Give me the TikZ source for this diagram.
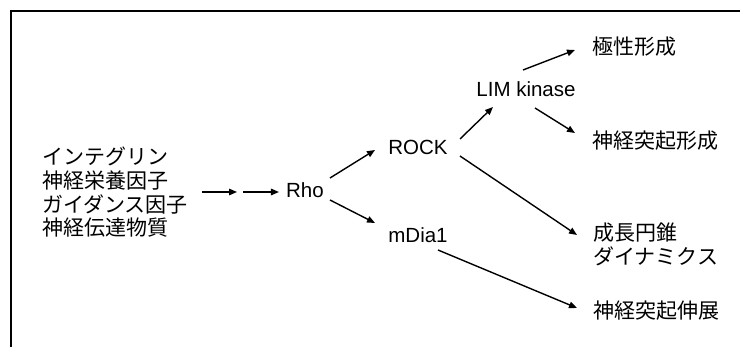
\documentclass[tikz,border=0pt]{standalone}
\usepackage{fontspec}
\setmainfont{Liberation Sans}
\newfontfamily\jp{Noto Sans CJK JP}
\usetikzlibrary{arrows.meta}
\tikzset{
  lbl/.style={inner sep=0pt, font=\fontsize{20.5}{23.7}\selectfont},
  jlbl/.style={inner sep=0pt, anchor=west, font=\fontsize{21}{23.7}\selectfont\jp},
  arr/.style={line width=1.4pt, -{Triangle[length=8pt,width=6.5pt]}},
  frame/.style={line width=1.3pt}
}
\begin{document}
\begin{tikzpicture}[x=1pt,y=-1pt]
\useasboundingbox (0,0) rectangle (740,347);
\draw[frame] (11,347) -- (11,11) -- (740,11);

\node[jlbl, align=left] (src) at (42,192.5) {インテグリン\\神経栄養因子\\ガイダンス因子\\神経伝達物質};
\coordinate (mid) at (240,192);
\node[lbl] (rho) at (305,190) {Rho};
\node[lbl] (rock) at (418,147) {ROCK};
\node[lbl] (mdia) at (418,235) {mDia1};
\node[lbl] (lim) at (526,89) {LIM kinase};
\node[jlbl] (pol) at (592,47) {極性形成};
\node[jlbl] (neu) at (592,141) {神経突起形成};
\node[jlbl] (gc) at (593,233) {成長円錐};
\node[jlbl] (gcb) at (593,256) {ダイナミクス};
\node[jlbl] (ext) at (593,311) {神経突起伸展};

\draw[arr] ([xshift=14pt]src.east |- mid) -- ([xshift=-3pt]mid);
\draw[arr] ([xshift=3pt]mid) -- ([xshift=-7pt,yshift=-2pt]rho.west);
\draw[arr] ([shift={(25,-12)}]rho.center) -- ([shift={(-43,3)}]rock.center);
\draw[arr] ([shift={(25,10)}]rho.center) -- ([shift={(-43,-12)}]mdia.center);
\draw[arr] ([shift={(42,-8)}]rock.center) -- ([shift={(-33,18)}]lim.center);
\draw[arr] ([shift={(42,9)}]rock.center) -- ([shift={(-16,2)}]gc.west);
\draw[arr] ([shift={(-3,-19)}]lim.center) -- ([shift={(-17,3)}]pol.west);
\draw[arr] ([shift={(9,19)}]lim.center) -- ([shift={(-17,-8)}]neu.west);
\draw[arr] ([shift={(20,15)}]mdia.center) -- ([shift={(-16,-3)}]ext.west);
\end{tikzpicture}
\end{document}
